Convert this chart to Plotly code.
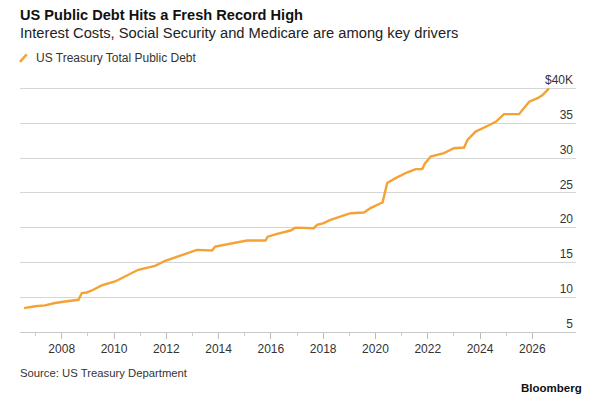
from plotly import graph_objs as go

# US Treasury total public debt, trillions of dollars
years = [2006.56, 2006.98, 2007.36, 2007.74, 2008.13, 2008.38, 2008.64, 2008.77,
         2008.96, 2009.21, 2009.53, 2010.04, 2010.55, 2010.93, 2011.45, 2011.57,
         2011.96, 2012.27, 2012.79, 2013.17, 2013.75, 2013.87, 2014.32, 2015.09,
         2015.79, 2015.88, 2016.24, 2016.75, 2016.94, 2017.64, 2017.77, 2018.02,
         2018.28, 2019.05, 2019.56, 2019.81, 2020.2, 2020.27, 2020.45, 2020.77,
         2021.22, 2021.54, 2021.79, 2021.88, 2022.11, 2022.62, 2023.0, 2023.39,
         2023.52, 2023.83, 2024.28, 2024.6, 2024.92, 2025.49, 2025.88, 2026.2,
         2026.39, 2026.64]
debt = [8.44, 8.7, 8.82, 9.16, 9.39, 9.5, 9.63, 10.6,
        10.68, 11.07, 11.7, 12.26, 13.2, 13.94, 14.4, 14.5,
        15.23, 15.6, 16.3, 16.8, 16.7, 17.28, 17.6, 18.14,
        18.14, 18.7, 19.1, 19.58, 20.0, 19.92, 20.4, 20.64,
        21.1, 22.07, 22.16, 22.8, 23.5, 23.6, 26.4, 27.1,
        27.95, 28.4, 28.4, 29.15, 30.2, 30.7, 31.4, 31.5,
        32.6, 33.8, 34.6, 35.2, 36.3, 36.3, 38.1, 38.6,
        39.05, 40.0]

x_ticks = [2008, 2010, 2012, 2014, 2016, 2018, 2020, 2022, 2024, 2026]
y_ticks = [5, 10, 15, 20, 25, 30, 35, 40]
y_labels = ['5', '10', '15', '20', '25', '30', '35', '$40K']

orange = '#f5a235'
grid = '#d6d6d6'
font = 'Liberation Sans, Arial, sans-serif'

line = go.Scatter(x=years, y=debt, mode='lines',
                  line=dict(color=orange, width=2.4),
                  name='US Treasury Total Public Debt', showlegend=False)
fig = go.Figure(data=[line])

# the page body adds an 8px margin, so the figure is 8px smaller each way
fig.update_layout(
    width=599, height=397,
    margin=dict(l=12, r=31, t=63, b=73, autoexpand=False),
    paper_bgcolor='white', plot_bgcolor='white',
    font=dict(family=font, color='#333333', size=12),
)

fig.update_xaxes(
    range=[2006.405, 2027.67], automargin=False,
    tickvals=x_ticks, ticktext=[str(v) for v in x_ticks],
    ticks='outside', ticklen=6, tickcolor='#bbbbbb', tickwidth=1,
    minor=dict(tickvals=[v + 1 for v in x_ticks[:-1]] + [2007, 2027],
               ticks='outside', ticklen=3, tickcolor='#cccccc'),
    showgrid=False, zeroline=False,
    showline=True, linecolor='#c8c8c8', linewidth=1,
    tickfont=dict(size=12, color='#333333'),
)

fig.update_yaxes(
    range=[5, 42.5], side='right', automargin=False,
    tickvals=y_ticks, ticktext=y_labels,
    ticklabelposition='inside top', ticks='',
    showgrid=True, gridcolor=grid, gridwidth=1,
    zeroline=False, showline=False,
    tickfont=dict(size=12, color='#333333'),
)

# header, legend key and footer
fig.add_annotation(text='<b>US Public Debt Hits a Fresh Record High</b>',
                   xref='paper', yref='paper', x=-0.003, y=1.214,
                   xanchor='left', yanchor='middle', showarrow=False,
                   font=dict(size=14.6, color='#111111'))
fig.add_annotation(text='Interest Costs, Social Security and Medicare are among key drivers',
                   xref='paper', yref='paper', x=-0.003, y=1.146,
                   xanchor='left', yanchor='middle', showarrow=False,
                   font=dict(size=14.7, color='#222222'))
fig.add_shape(type='line', xref='paper', yref='paper',
              x0=0.0, y0=1.035, x1=0.012, y1=1.0635,
              line=dict(color=orange, width=2.5))
fig.add_annotation(text='US Treasury Total Public Debt',
                   xref='paper', yref='paper', x=0.025, y=1.048,
                   xanchor='left', yanchor='middle', showarrow=False,
                   font=dict(size=12, color='#333333'))
fig.add_annotation(text='Source: US Treasury Department',
                   xref='paper', yref='paper', x=-0.003, y=-0.157,
                   xanchor='left', yanchor='middle', showarrow=False,
                   font=dict(size=11.3, color='#333333'))
fig.add_annotation(text='<b>Bloomberg</b>',
                   xref='paper', yref='paper', x=1.014, y=-0.213,
                   xanchor='right', yanchor='middle', showarrow=False,
                   font=dict(size=11.5, color='#111111'))

fig.write_html('out.html')
